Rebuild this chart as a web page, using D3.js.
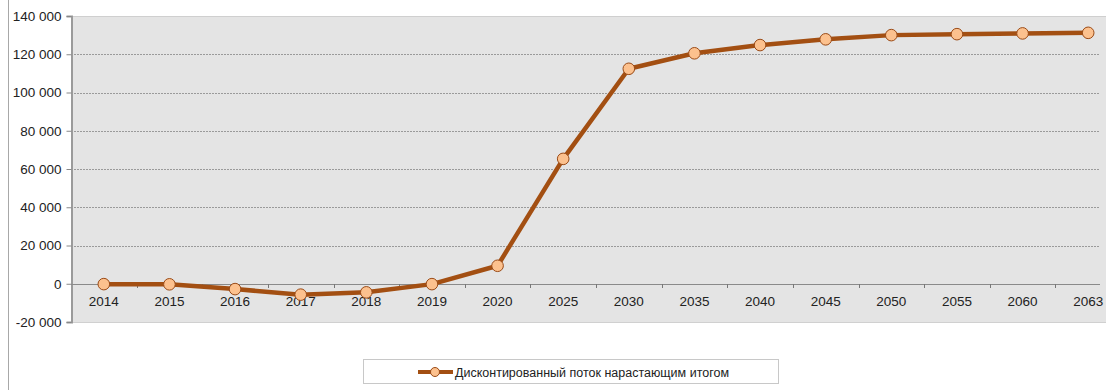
<!DOCTYPE html>
<html><head><meta charset="utf-8">
<script src="https://cdn.jsdelivr.net/npm/d3@7"></script>
<style>body{margin:0;background:#fff;} svg{display:block;} text{font-family:"Liberation Sans",Arial,sans-serif;}</style>
</head><body><svg id="c" width="1106" height="390"></svg>
<script>
const categories = ["2014","2015","2016","2017","2018","2019","2020","2025","2030","2035","2040","2045","2050","2055","2060","2063"];
const values = [-200,-300,-2800,-5700,-4500,-200,9400,65300,112400,120500,124800,127800,130000,130500,130900,131200];
const yTicks = [-20000,0,20000,40000,60000,80000,100000,120000,140000];
const seriesName = "Дисконтированный поток нарастающим итогом";

const svg = d3.select("#c");
const pLeft = 71, plotRight = 1100, pTop = 16, pBottom = 322;
const x = d3.scaleBand().domain(categories).range([71, 1121]);
const y = d3.scaleLinear().domain([-20000, 140000]).range([pBottom, pTop]);
const fmt = v => d3.format(",")(v).replace(/,/g, " ").replace("−","-");

// outer border
svg.append("line").attr("x1",8.5).attr("x2",8.5).attr("y1",0).attr("y2",390).attr("stroke","#a8a8a8");

// plot background
svg.append("rect").attr("x",pLeft).attr("y",pTop).attr("width",1106-pLeft).attr("height",pBottom-pTop).attr("fill","#e4e4e4");
svg.append("line").attr("x1",pLeft).attr("x2",1106).attr("y1",pTop+0.5).attr("y2",pTop+0.5).attr("stroke","#cfcfcf");
svg.append("line").attr("x1",pLeft).attr("x2",1106).attr("y1",pBottom+0.5).attr("y2",pBottom+0.5).attr("stroke","#d0d0d0");

// gridlines
svg.append("g").selectAll("line").data(yTicks.filter(d=>d!==0 && d!==-20000 && d!==140000)).join("line")
  .attr("x1",pLeft).attr("x2",plotRight).attr("y1",d=>Math.round(y(d))+0.5).attr("y2",d=>Math.round(y(d))+0.5)
  .attr("stroke","#9a9a9a").attr("stroke-dasharray","2,1");

// y axis
const yAxis = svg.append("g").attr("transform",`translate(${pLeft+0.5},0)`)
  .call(d3.axisLeft(y).tickValues(yTicks).tickFormat(fmt).tickSize(5).tickPadding(5));
yAxis.select(".domain").attr("stroke","#9a9a9a").attr("stroke-width",2);
yAxis.selectAll(".tick line").attr("stroke","#888");
yAxis.selectAll("text").attr("font-size",13.5).attr("fill","#222");

// x axis at zero
const xAxis = svg.append("g").attr("transform",`translate(0,${Math.round(y(0))+0.5})`)
  .call(d3.axisBottom(x).tickSize(0).tickPadding(12));
xAxis.select(".domain").remove();
svg.append("line").attr("x1",pLeft).attr("x2",plotRight).attr("y1",Math.round(y(0))+0.5).attr("y2",Math.round(y(0))+0.5).attr("stroke","#8a8a8a");
xAxis.selectAll("text").attr("font-size",13.5).attr("fill","#222");
svg.append("g").selectAll("line").data(categories.slice(1)).join("line")
  .attr("x1",d=>Math.round(x(d))+0.5).attr("x2",d=>Math.round(x(d))+0.5)
  .attr("y1",Math.round(y(0))).attr("y2",Math.round(y(0))+4).attr("stroke","#777");

// line
const line = d3.line().x((d,i)=>x(categories[i])+x.bandwidth()/2).y(d=>y(d));
svg.append("path").datum(values).attr("d",line).attr("fill","none")
  .attr("stroke","#a34f12").attr("stroke-width",4.5).attr("stroke-linejoin","round");
svg.append("g").selectAll("circle").data(values).join("circle")
  .attr("cx",(d,i)=>x(categories[i])+x.bandwidth()/2).attr("cy",d=>y(d)).attr("r",5.8)
  .attr("fill","#fcc18e").attr("stroke","#9a4a16").attr("stroke-width",1);

// legend
const lg = svg.append("g");
lg.append("rect").attr("x",363.5).attr("y",359.5).attr("width",415).attr("height",24).attr("fill","#fff").attr("stroke","#c8c8c8");
lg.append("line").attr("x1",418).attr("x2",453).attr("y1",372).attr("y2",372).attr("stroke","#a34f12").attr("stroke-width",4);
lg.append("circle").attr("cx",435).attr("cy",372).attr("r",4.5).attr("fill","#fcc18e").attr("stroke","#9a4a16");
lg.append("text").attr("x",455).attr("y",376.5).attr("font-size",12.5).attr("fill","#222").text(seriesName);
</script></body></html>
